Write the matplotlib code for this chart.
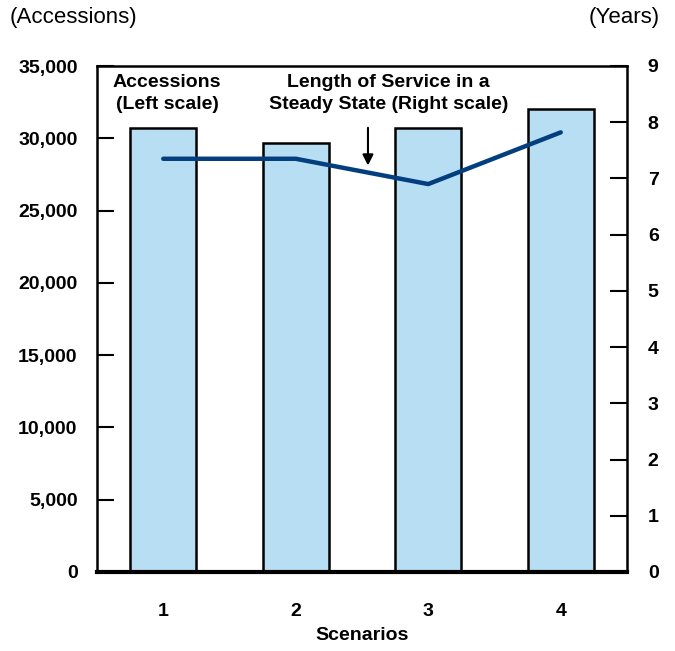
import matplotlib
matplotlib.use("Agg")
import matplotlib.pyplot as plt

scenarios = ["1", "2", "3", "4"]
accessions = [30700, 29700, 30700, 32000]
service_years = [7.35, 7.35, 6.9, 7.82]

plt.rcParams["font.family"] = ["Liberation Sans", "DejaVu Sans"]

fig = plt.figure(figsize=(6.75, 6.51), dpi=100)
ax = fig.add_axes([97 / 675, 1 - 572 / 651, 530 / 675, 506 / 651])
x = list(range(1, len(scenarios) + 1))

ax.bar(x, accessions, width=0.5, color="#b8def4", edgecolor="black", linewidth=1.8, zorder=2)
ax.set_xlim(0.5, 4.5)
ax.set_ylim(0, 35000)
ax.set_yticks(range(0, 35001, 5000))
ax.set_yticklabels([f"{v:,}" for v in range(0, 35001, 5000)], fontsize=14, fontweight="bold")
ax.set_xticks(x)
ax.set_xticklabels(scenarios, fontsize=14, fontweight="bold")
ax.tick_params(axis="y", direction="in", length=12, width=1.5, pad=14)
ax.tick_params(axis="x", length=0, pad=22)
ax.set_xlabel("Scenarios", fontsize=14, fontweight="bold", labelpad=5)
for s in ["left", "right", "top"]:
    ax.spines[s].set_linewidth(1.8)
ax.spines["bottom"].set_linewidth(3)

ax2 = ax.twinx()
ax2.plot(x, service_years, color="#033f7e", linewidth=3.2, solid_capstyle="round", zorder=3)
ax2.set_ylim(0, 9)
ax2.set_yticks(range(0, 10))
ax2.set_yticklabels([str(v) for v in range(0, 10)], fontsize=14, fontweight="bold")
ax2.tick_params(axis="y", direction="in", length=12, width=1.5, pad=15)
for s in ["left", "right", "top", "bottom"]:
    ax2.spines[s].set_visible(False)

ax2.text(1.03, 8.85, "Accessions\n(Left scale)", ha="center", va="top",
         fontsize=14, fontweight="bold", linespacing=1.35)
ax2.text(2.7, 8.85, "Length of Service in a\nSteady State (Right scale)", ha="center", va="top",
         fontsize=14, fontweight="bold", linespacing=1.35)
ax2.annotate("", xy=(2.545, 7.18), xytext=(2.545, 7.95),
             arrowprops=dict(arrowstyle="-|>", color="black", lw=1.5, mutation_scale=16))

fig.text(10 / 675, 1 - 18 / 651, "(Accessions)", ha="left", va="center", fontsize=16)
fig.text(660 / 675, 1 - 18 / 651, "(Years)", ha="right", va="center", fontsize=16)

fig.savefig("out.png", dpi=100)
